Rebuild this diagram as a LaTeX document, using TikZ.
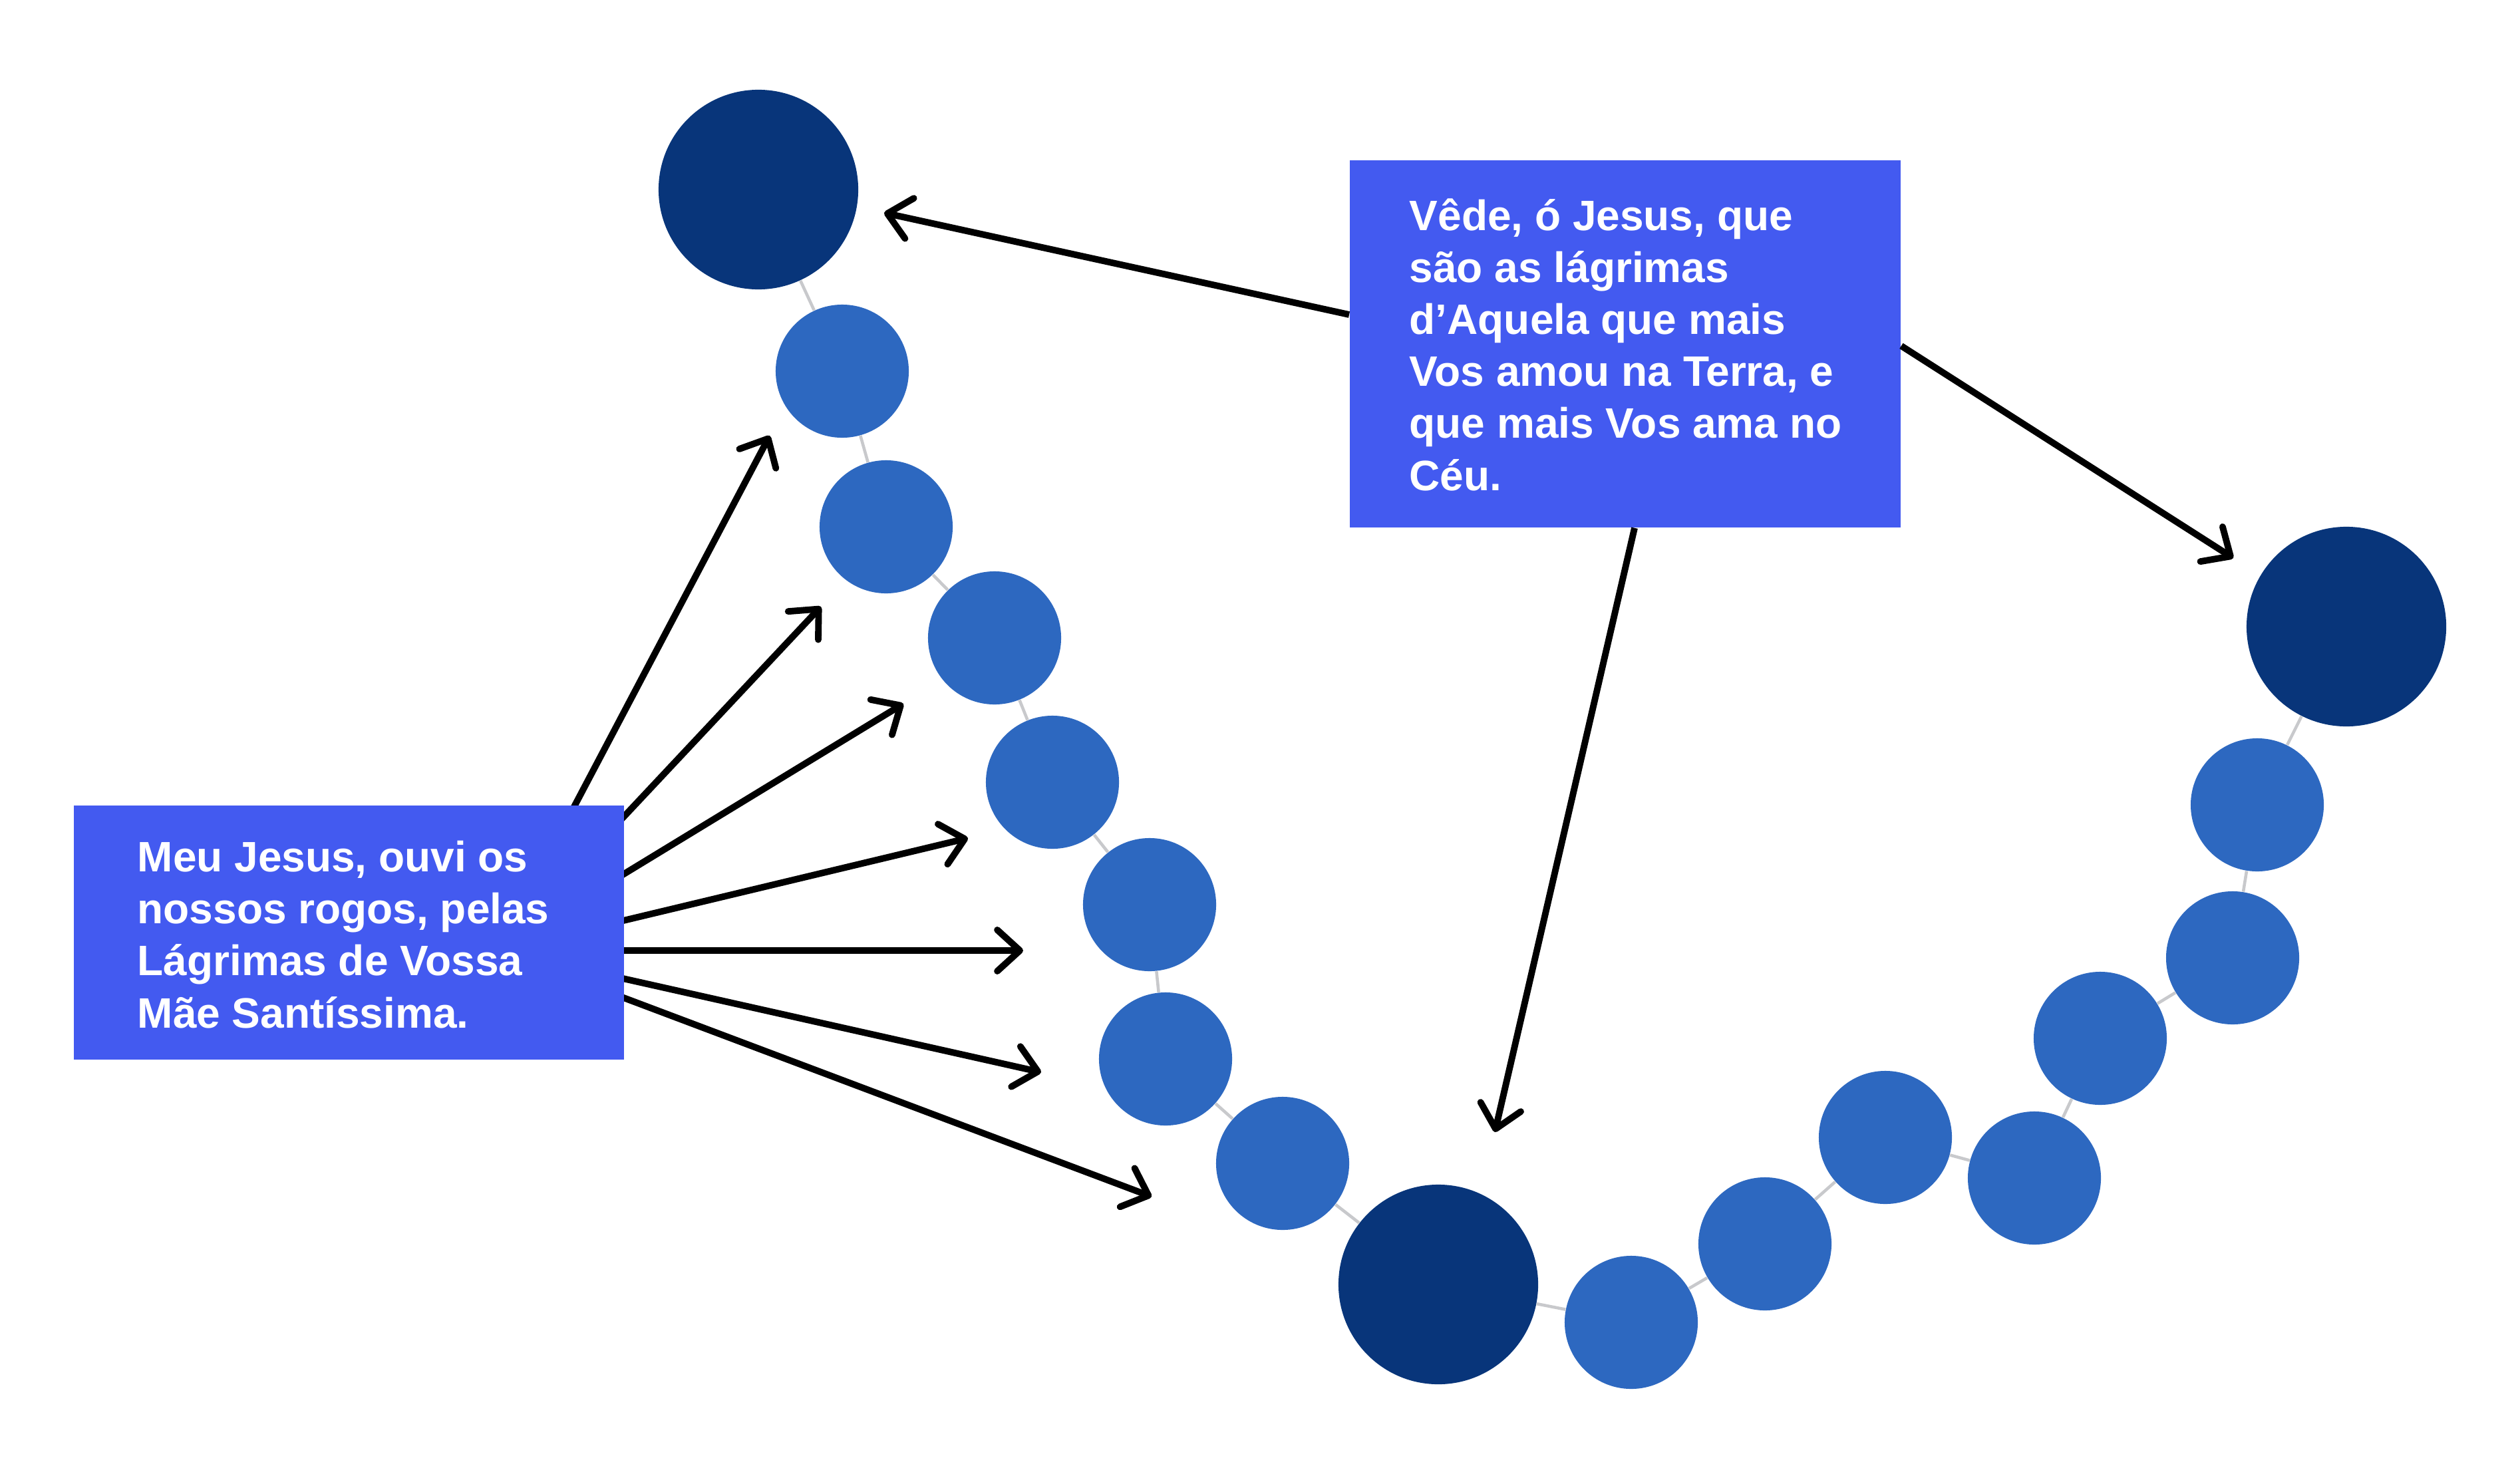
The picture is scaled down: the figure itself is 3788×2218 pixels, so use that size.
\documentclass[tikz,border=0pt]{standalone}
\usepackage{fontspec}
\setmainfont{Liberation Sans}
\usetikzlibrary{arrows.meta,calc,backgrounds}

\definecolor{boxblue}{HTML}{435AF0}
\definecolor{beaddark}{HTML}{08357A}
\definecolor{beadlight}{HTML}{2D68C0}
\definecolor{cordgray}{HTML}{C8C9CC}

\tikzset{
  bigbead/.style={circle, fill=beaddark, minimum size=3cm, inner sep=0pt},
  bead/.style={circle, fill=beadlight, minimum size=2cm, inner sep=0pt},
  cord/.style={draw=cordgray, line width=1.3pt},
  prayerbox/.style={fill=boxblue, inner sep=0pt, anchor=north west},
  prayertext/.style={text=white, font=\bfseries\fontsize{18.2}{22.2}\selectfont,
    align=left, inner sep=0pt, anchor=base west},
  arr/.style={-{Straight Barb[length=3.4mm,width=6.2mm,round]}, line width=2.8pt},
}

\begin{document}
\begin{tikzpicture}[x=0.01cm, y=-0.01cm]
  \useasboundingbox (0,0) rectangle (3788,2218);

  % the beads
  \node[bigbead] (big1) at (1140,285) {};
  \node[bead] (t1) at (1266,558) {};
  \node[bead] (t2) at (1332,792) {};
  \node[bead] (t3) at (1495,959) {};
  \node[bead] (t4) at (1582,1176) {};
  \node[bead] (t5) at (1728,1360) {};
  \node[bead] (t6) at (1752,1592) {};
  \node[bead] (t7) at (1928,1749) {};
  \node[bigbead] (big2) at (2162,1931) {};
  \node[bead] (t8) at (2452,1988) {};
  \node[bead] (t9) at (2653,1870) {};
  \node[bead] (t10) at (2834,1710) {};
  \node[bead] (t11) at (3058,1771) {};
  \node[bead] (t12) at (3157,1561) {};
  \node[bead] (t13) at (3356,1440) {};
  \node[bead] (t14) at (3393,1210) {};
  \node[bigbead] (big3) at (3527,942) {};

  \draw[cord] (big1) -- (t1) -- (t2) -- (t3) -- (t4) -- (t5) -- (t6) -- (t7)
    -- (big2) -- (t8) -- (t9) -- (t10) -- (t11) -- (t12) -- (t13) -- (t14) -- (big3);

  % the two prayers (base = last line)
  \node[prayerbox, minimum width=8.27cm, minimum height=3.82cm] (meu) at (110,1210) {};
  \node[prayertext] (meutext) at ($(meu.north west)+(96,335)$)
    {Meu Jesus, ouvi os\\nossos rogos, pelas\\Lágrimas de Vossa\\Mãe Santíssima.};

  \node[prayerbox, minimum width=8.28cm, minimum height=5.52cm] (vede) at (2028,240) {};
  \node[prayertext] (vedetext) at ($(vede.north west)+(90,497)$)
    {Vêde, ó Jesus, que\\são as lágrimas\\d’Aquela que mais\\Vos amou na Terra, e\\que mais Vos ama no\\Céu.};

  % arrows
  \coordinate (meuhub) at ($(meu.north west)+(639,219)$);
  \coordinate (a1) at (1157,655);
  \coordinate (a2) at (1234,912);
  \coordinate (a3) at (1358,1058);
  \coordinate (a4) at (1455,1260);
  \coordinate (a5) at (1538,1429);
  \coordinate (a6) at (1565,1612);
  \coordinate (a7) at (1731,1799);
  \begin{scope}[on background layer]
    \foreach \tip in {a1,a2,a3,a4,a5,a6,a7}
      \draw[arr] (meuhub) -- (\tip);
  \end{scope}

  \coordinate (v1) at (1329,320);
  \coordinate (v2) at (3357,839);
  \coordinate (v3) at (2247,1702);
  \draw[arr] ($(vede.north west)+(0,233)$) -- (v1);
  \draw[arr] ($(vede.north east)+(0,280)$) -- (v2);
  \draw[arr] ($(vede.south west)+(429,0)$) -- (v3);
\end{tikzpicture}
\end{document}
